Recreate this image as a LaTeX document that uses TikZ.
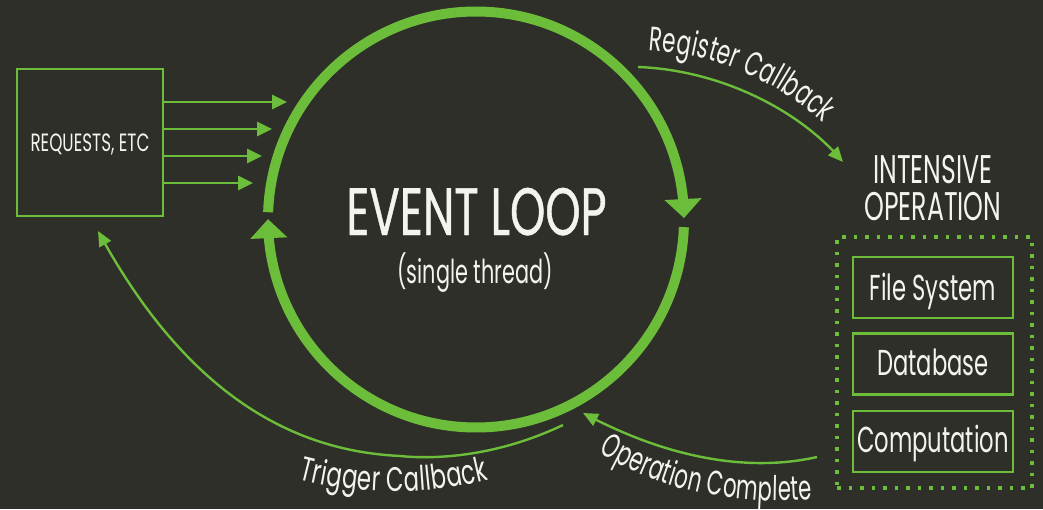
\documentclass[tikz,border=0pt]{standalone}
\usepackage{fontspec}
\usepackage{graphicx}
\setmainfont[FakeStretch=0.63]{Poppins}
\newfontfamily\evfont[FakeStretch=0.67,FakeBold=0.6]{Poppins}
\newfontfamily\reqfont[FakeStretch=0.67]{Poppins}
\newfontfamily\plainpop{Poppins}
\usetikzlibrary{arrows.meta,bending}
\definecolor{bg}{HTML}{2F2F29}
\definecolor{grn}{HTML}{6CBD3A}
\definecolor{txt}{HTML}{F4F4EF}
\newcommand{\fsz}[1]{\fontsize{#1}{#1}\selectfont}
\newcommand\cscale{0.64}
\newcommand\curvefont{\plainpop\fsz{34}}
\newcommand\sqz[1]{\scalebox{\cscale}[1]{#1}}
\def\spmark{/}
% #1 name prefix, #2 start point, #3 first angle, #4 last angle, #5 number of characters, #6 characters
\newcommand\chaintext[6]{%
  \node[inner sep=0pt, anchor=base west, rotate=#3] (#1-0) at #2 {};
  \foreach \ch [count=\k] in {#6}{%
    \pgfmathtruncatemacro\kp{\k-1}%
    \pgfmathsetmacro\ang{#3+(#4-#3)*(\k-1)/(#5-1)}%
    \ifx\ch\spmark \def\chtxt{\ }\else \let\chtxt\ch\fi
    \node[inner sep=0pt, anchor=base west, rotate=\ang, font=\curvefont, text=txt] (#1-\k) at (#1-\kp.base east) {\sqz{\chtxt}};
  }}
\begin{document}
\begin{tikzpicture}[x=1pt,y=-1pt,
  every node/.style={text=txt, inner sep=0pt},
  lbl/.style={anchor=base},
  gbox/.style={draw=grn, line width=2.6pt, minimum width=160pt, minimum height=61pt},
  ring/.style={draw=grn, line width=10pt, -{Triangle[length=19pt,width=36pt]}},
  conn/.style={draw=grn, line width=2.6pt, -{Triangle[length=15pt,width=14pt]}},
  curv/.style={draw=grn, line width=2.4pt, -{Triangle[length=15pt,width=13pt]}}
]
\fill[bg] (0,0) rectangle (1043,509);
\useasboundingbox (0,0) rectangle (1043,509);

% requests box
\node[draw=grn, line width=2.4pt, minimum width=146pt, minimum height=147pt] (req) at (90,142.5) {};
\node[lbl, font=\reqfont\fsz{25}] (reqt) at (90,151.7) {REQUESTS, ETC};
\coordinate (r1) at (287,102);
\coordinate (r2) at (272,129);
\coordinate (r3) at (262,156);
\coordinate (r4) at (253,183);
\foreach \i in {1,...,4} \draw[conn] (req.east |- r\i) -- (r\i);

% event loop ring
\node[circle, minimum size=416pt] (loop) at (476,219.5) {};
\draw[ring] (loop.center) ++(182:208) arc[start angle=182, end angle=359.6, radius=208];
\draw[ring] (loop.center) ++(2.1:208) arc[start angle=2.1, end angle=180.1, radius=208];
\node[lbl, font=\evfont\fsz{67}] (ev) at (476.5,235) {EVENT LOOP};
\node[lbl, font=\fsz{33}] (st) at (475,283) {(single thread)};

% intensive operation
\node[lbl, font=\fsz{40}] (int1) at (933,183) {INTENSIVE};
\node[lbl, font=\fsz{40}] (int2) at (933,220) {OPERATION};
\node[draw=grn, line width=3.5pt, dash pattern=on 3.5pt off 8pt, minimum width=195pt, minimum height=251pt] (ops) at (934.5,362.5) {};
\node[gbox] (fs) at (933,287.5) {};
\node[gbox] (db) at (933,364) {};
\node[gbox] (cp) at (933,441.5) {};
\node[lbl, font=\fsz{36}] (fst) at (933,300) {File System};
\node[lbl, font=\fsz{36}] (dbt) at (933,375) {Database};
\node[lbl, font=\fsz{36}] (cpt) at (933,452) {Computation};

% register callback
\coordinate (rcs) at (638,67);
\coordinate (rce) at (843,162);
\draw[curv] (rcs) .. controls (720,70) and (800,110) .. (rce);
\renewcommand\cscale{0.63}
\chaintext{rc}{(647,50)}{-5}{-40}{17}{R,e,g,i,s,t,e,r,/,C,a,l,l,b,a,c,k}

% operation complete
\coordinate (ocs) at (817,457);
\coordinate (oce) at (583,413);
\draw[curv] (ocs) .. controls (760,470) and (680,465) .. (oce);
\renewcommand\cscale{0.62}
\chaintext{oc}{(597,452)}{-29}{5}{18}{O,p,e,r,a,t,i,o,n,/,C,o,m,p,l,e,t,e}

% trigger callback
\coordinate (tcs) at (563,425);
\coordinate (tcm) at (400,456);
\coordinate (tce) at (98,231);
\draw[curv] (tcs) .. controls (500,455) and (440,460) .. (tcm) .. controls (320,452) and (200,420) .. (tce);
\renewcommand\cscale{0.67}
\chaintext{tc}{(297,479)}{-14}{13}{16}{T,r,i,g,g,e,r,/,C,a,l,l,b,a,c,k}
\end{tikzpicture}
\end{document}
